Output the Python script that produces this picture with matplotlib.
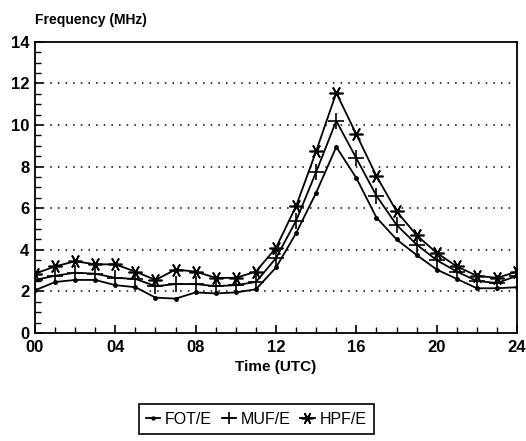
"""
Ionospheric frequencies (FOT / MUF / HPF) over one day.
"""

import numpy as np
import matplotlib
matplotlib.use("Agg")
import matplotlib.pyplot as plt
from matplotlib.ticker import MultipleLocator

hours = list(range(25))
fot = [2.05, 2.45, 2.55, 2.55, 2.3, 2.2, 1.7, 1.65, 1.95, 1.9, 1.95, 2.1, 3.15,
       4.8, 6.75, 8.95, 7.45, 5.55, 4.5, 3.75, 3.05, 2.6, 2.15, 2.15, 2.2]
muf = [2.55, 2.75, 2.9, 2.85, 2.65, 2.6, 2.25, 2.35, 2.35, 2.25, 2.3, 2.45, 3.6,
       5.4, 7.75, 10.2, 8.4, 6.6, 5.2, 4.25, 3.5, 2.95, 2.5, 2.4, 2.75]
hpf = [2.85, 3.2, 3.45, 3.3, 3.3, 2.95, 2.55, 3.05, 2.95, 2.65, 2.65, 2.95, 4.1,
       6.1, 8.75, 11.55, 9.55, 7.55, 5.85, 4.7, 3.85, 3.2, 2.75, 2.65, 2.95]
x_ticks = [0, 4, 8, 12, 16, 20, 24]
x_labels = ["00", "04", "08", "12", "16", "20", "24"]

plt.rcParams['font.family'] = ['Liberation Sans', 'DejaVu Sans']

fig = plt.figure(figsize=(5.26, 4.41), dpi=100)
ax = fig.add_axes([0.0665, 0.245, 0.9165, 0.66])

ax.plot(hours, fot, 'k-', lw=1.3, marker='o', ms=2.5, label='FOT/E')
ax.plot(hours, muf, 'k-', lw=1.3, marker='+', ms=11, mew=1.2, label='MUF/E')
ax.plot(hours, hpf, 'k-', lw=1.3, marker=(6, 2, 90), ms=10, mew=1.2, label='HPF/E')

ax.set_xlim(0, 24)
ax.set_ylim(0, 14)
ax.set_xticks(x_ticks)
ax.set_xticklabels(x_labels)
ax.xaxis.set_minor_locator(MultipleLocator(1))
ax.yaxis.set_major_locator(MultipleLocator(2))
ax.yaxis.set_minor_locator(MultipleLocator(0.5))
ax.tick_params(which='both', direction='in', top=False, right=False)
ax.tick_params(which='major', length=6, width=1.2, labelsize=12)
ax.tick_params(axis='x', which='major', pad=5)
ax.tick_params(axis='y', which='major', pad=4)
ax.tick_params(which='minor', length=4, width=1.0)
for lbl in ax.get_xticklabels() + ax.get_yticklabels():
    lbl.set_fontweight('bold')

for y in range(2, 14, 2):
    ax.axhline(y, color='k', ls=(0, (1, 4)), lw=1.1)

for s in ax.spines.values():
    s.set_linewidth(1.3)

ax.set_xlabel("Time (UTC)", fontsize=11, fontweight='bold', labelpad=4)
fig.text(0.066, 0.945, "Frequency (MHz)", fontsize=10, fontweight='bold', ha='left')

leg = fig.legend(loc='upper center', bbox_to_anchor=(0.487, 0.083), ncol=3,
                 fontsize=11.5, handlelength=0.9, handletextpad=0.3, columnspacing=0.6,
                 markerscale=0.85, borderaxespad=0,
                 fancybox=False, edgecolor='k', framealpha=1, borderpad=0.45)
leg.get_frame().set_linewidth(1.2)

fig.savefig("out.png", dpi=100)
